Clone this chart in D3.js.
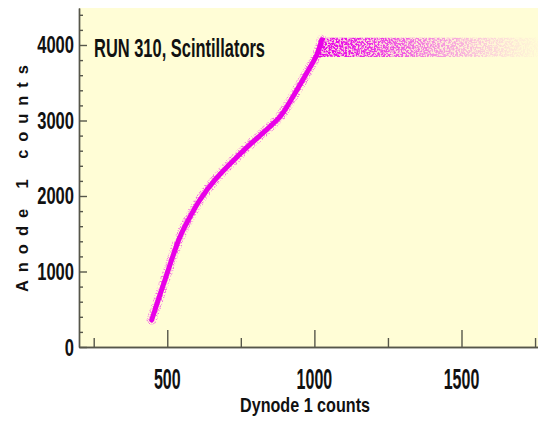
<!DOCTYPE html>
<html>
<head>
<meta charset="utf-8">
<script src="https://cdn.jsdelivr.net/npm/d3@7"></script>
<style>
  html, body { margin: 0; padding: 0; background: #ffffff; }
  svg { display: block; }
  .lbl { font-family: "Liberation Sans", Arial, sans-serif; font-weight: bold; fill: #111; }
</style>
</head>
<body>
<svg id="chart" width="538" height="423"></svg>
<script>
// Anode 1 vs Dynode 1 response, scintillator run 310.
// Ridge of the correlation band (dynode counts, anode counts).
const ridgeDynode = [447, 492, 543, 577, 611, 662, 725, 775, 845, 885, 927, 974, 1008, 1025];
const ridgeAnode  = [358, 887, 1457, 1722, 1950, 2212, 2470, 2660, 2905, 3060, 3315, 3629, 3868, 4070];

// Saturated anode region: dynode span, anode span and relative point density.
const plateauDynode  = [1012, 1760];
const plateauAnode   = [3840, 4095];
const densityDynode  = [1025, 1150, 1300, 1420, 1550, 1680, 1760];
const densityLevel   = [1.0, 0.85, 0.6, 0.38, 0.2, 0.07, 0.02];

// Axes
const xMajorTicks = [500, 1000, 1500];
const xMinorTicks = [250, 750, 1250, 1750];
const yMajorTicks = [0, 1000, 2000, 3000, 4000];
const yMinorTicks = d3.range(0, 4401, 200).filter(v => v % 1000 !== 0);

const titleText = "RUN 310, Scintillators";
const xTitle = "Dynode 1 counts";
const yTitle = "Anode 1 counts";

const svg = d3.select("#chart");
const plot = { left: 79, right: 538, top: 8, bottom: 347 };

const x = d3.scaleLinear().domain([200, 1760]).range([plot.left, plot.right]);
const y = d3.scaleLinear().domain([0, 4490]).range([plot.bottom, plot.top]);

const magenta = "#e800e8";
const axisColor = "#56564a";

// Plot background
svg.append("rect")
  .attr("x", plot.left).attr("y", plot.top)
  .attr("width", plot.right - plot.left).attr("height", plot.bottom - plot.top)
  .attr("fill", "#fffdd6");

const defs = svg.append("defs");

// Speckle texture for the scattered events
function speckleFilter(id, freq, gain, offset, seed) {
  const f = defs.append("filter").attr("id", id)
    .attr("filterUnits", "userSpaceOnUse")
    .attr("x", 0).attr("y", 0).attr("width", 538).attr("height", 423);
  f.append("feTurbulence")
    .attr("type", "fractalNoise").attr("baseFrequency", freq).attr("numOctaves", 2).attr("seed", seed)
    .attr("result", "noise");
  f.append("feColorMatrix").attr("in", "noise").attr("type", "matrix")
    .attr("values", `0 0 0 0 0  0 0 0 0 0  0 0 0 0 0  ${gain} 0 0 0 ${offset}`)
    .attr("result", "mask");
  f.append("feComposite").attr("in", "SourceGraphic").attr("in2", "mask").attr("operator", "in");
}
speckleFilter("speckle", "0.55", 5, -1.9, 3);
speckleFilter("fuzz", "0.75", 4, -1.8, 7);

// Density gradient across the saturated region
const grad = defs.append("linearGradient").attr("id", "plateauGrad")
  .attr("gradientUnits", "userSpaceOnUse")
  .attr("x1", x(plateauDynode[0])).attr("x2", x(plateauDynode[1]))
  .attr("y1", 0).attr("y2", 0);
densityDynode.forEach((d, i) => {
  grad.append("stop")
    .attr("offset", (x(d) - x(plateauDynode[0])) / (x(plateauDynode[1]) - x(plateauDynode[0])))
    .attr("stop-color", magenta)
    .attr("stop-opacity", densityLevel[i]);
});

const g = svg.append("g");

// Saturated band: left edge follows the rising ridge
const plateauPoly = [
  [plateauDynode[0], plateauAnode[0]],
  [1025, plateauAnode[1]],
  [plateauDynode[1], plateauAnode[1]],
  [plateauDynode[1], plateauAnode[0]]
];
const polyPath = d3.line().x(d => x(d[0])).y(d => y(d[1]))(plateauPoly) + "Z";
g.append("path").attr("d", polyPath)
  .attr("fill", "url(#plateauGrad)").attr("opacity", 0.15);
g.append("path").attr("d", polyPath)
  .attr("fill", "url(#plateauGrad)")
  .attr("filter", "url(#speckle)");

// Rising band
const ridge = ridgeDynode.map((d, i) => [d, ridgeAnode[i]]);
const ridgeLine = d3.line().x(d => x(d[0])).y(d => y(d[1])).curve(d3.curveCatmullRom.alpha(0.5));

g.append("path").attr("d", ridgeLine(ridge))
  .attr("fill", "none").attr("stroke", magenta).attr("stroke-width", 10)
  .attr("stroke-linecap", "round").attr("opacity", 0.55).attr("filter", "url(#fuzz)");
g.append("path").attr("d", ridgeLine(ridge))
  .attr("fill", "none").attr("stroke", magenta).attr("stroke-width", 5)
  .attr("stroke-linecap", "round");

// Axes lines and ticks
const xAxisMajor = d3.axisBottom(x).tickValues(xMajorTicks).tickSize(-17).tickSizeOuter(0).tickFormat("");
const xAxisMinor = d3.axisBottom(x).tickValues(xMinorTicks).tickSize(-9).tickSizeOuter(0).tickFormat("");
const yAxisMajor = d3.axisLeft(y).tickValues(yMajorTicks).tickSize(-8).tickSizeOuter(0).tickFormat("");
const yAxisMinor = d3.axisLeft(y).tickValues(yMinorTicks).tickSize(-4).tickSizeOuter(0).tickFormat("");

function styleAxis(sel) {
  sel.selectAll("path, line").attr("stroke", axisColor).attr("stroke-width", 1.4);
}
svg.append("g").attr("transform", `translate(0,${plot.bottom})`).call(xAxisMinor).call(styleAxis);
svg.append("g").attr("transform", `translate(0,${plot.bottom})`).call(xAxisMajor).call(styleAxis);
svg.append("g").attr("transform", `translate(${plot.left},0)`).call(yAxisMinor).call(styleAxis);
svg.append("g").attr("transform", `translate(${plot.left},0)`).call(yAxisMajor).call(styleAxis);

// Tick labels
svg.append("g").selectAll("text").data(xMajorTicks).join("text")
  .attr("class", "lbl")
  .attr("x", d => x(d)).attr("y", 389)
  .attr("text-anchor", "middle")
  .attr("font-size", 30)
  .attr("textLength", d => String(d).length * 8.9)
  .attr("lengthAdjust", "spacingAndGlyphs")
  .text(d => d);

svg.append("g").selectAll("text").data(yMajorTicks).join("text")
  .attr("class", "lbl")
  .attr("x", 74).attr("y", d => y(d) + 8.5)
  .attr("text-anchor", "end")
  .attr("font-size", 23.5)
  .attr("textLength", d => String(d).length * 9.2)
  .attr("lengthAdjust", "spacingAndGlyphs")
  .text(d => d);

// Titles
svg.append("text").attr("class", "lbl")
  .attr("x", 94).attr("y", 57)
  .attr("font-size", 25)
  .attr("textLength", 171).attr("lengthAdjust", "spacingAndGlyphs")
  .text(titleText);

svg.append("text").attr("class", "lbl")
  .attr("x", 305).attr("y", 412)
  .attr("text-anchor", "middle")
  .attr("font-size", 21)
  .attr("textLength", 130).attr("lengthAdjust", "spacingAndGlyphs")
  .text(xTitle);

svg.append("text").attr("class", "lbl")
  .attr("transform", "translate(28,178.5) rotate(-90)")
  .attr("text-anchor", "middle")
  .attr("font-size", 16.5)
  .attr("textLength", 227).attr("lengthAdjust", "spacing")
  .text(yTitle);
</script>
</body>
</html>
